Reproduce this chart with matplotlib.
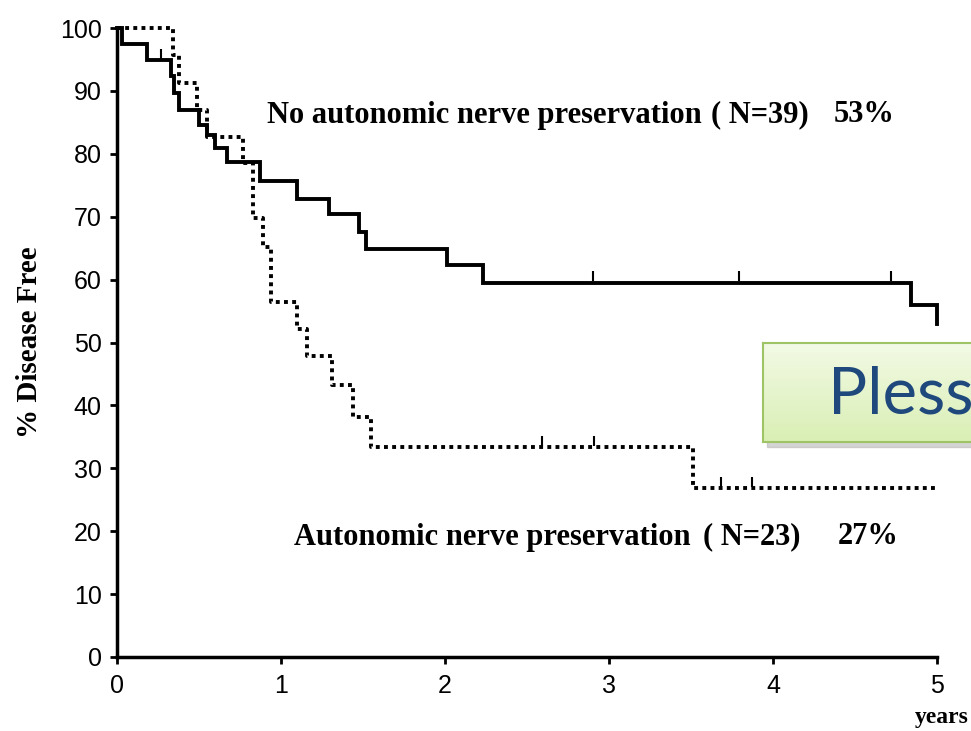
import numpy as np
import matplotlib
matplotlib.use("Agg")
import matplotlib.pyplot as plt

# Kaplan-Meier steps (years, % disease free)
no_pres_t = [0, 0.03, 0.18, 0.33, 0.35, 0.38, 0.50, 0.55, 0.60, 0.67, 0.87, 1.10,
             1.29, 1.475, 1.52, 2.01, 2.23, 4.84, 5.0]
no_pres_s = [100, 97.4, 94.9, 92.3, 89.7, 87.0, 84.5, 83.0, 81.0, 78.7, 75.6, 72.8,
             70.4, 67.6, 64.9, 62.3, 59.5, 56.0, 52.9]
no_pres_cens = [0.27, 2.90, 3.79, 4.72]

pres_t = [0, 0.34, 0.38, 0.49, 0.55, 0.77, 0.83, 0.89, 0.94, 1.10, 1.16, 1.31,
          1.44, 1.55, 3.51, 5.0]
pres_s = [100, 95.7, 91.3, 87.0, 82.6, 78.5, 69.8, 65.2, 56.5, 52.2, 47.8, 43.3,
          38.2, 33.4, 26.9, 26.9]
pres_cens = [2.59, 2.91, 3.68, 3.87]

x_ticks = [0, 1, 2, 3, 4, 5]
y_ticks = [0, 10, 20, 30, 40, 50, 60, 70, 80, 90, 100]

# annotation pieces: (text, left edge px) for each group
label_no = [("No autonomic nerve preservation", 267), ("( N=39)", 711), ("53%", 834)]
label_yes = [("Autonomic nerve preservation", 294), ("( N=23)", 703), ("27%", 838)]


def step_value(ts, ss, t):
    idx = np.searchsorted(ts, t, side="right") - 1
    return np.asarray(ss)[idx]


fig = plt.figure(figsize=(9.71, 7.31), dpi=100)
ax = fig.add_axes([117 / 971, 1 - 657 / 731, 820 / 971, 629 / 731])

ax.step(no_pres_t, no_pres_s, where="post", color="black", lw=2.8,
        solid_joinstyle="miter", clip_on=False, zorder=3)
ax.step(pres_t, pres_s, where="post", color="black", lw=2.8,
        linestyle=(0, (1, 1.1)), clip_on=False, zorder=3)

# censor marks
ax.plot(no_pres_cens, step_value(no_pres_t, no_pres_s, no_pres_cens) + 1,
        ls="none", marker="|", ms=7, mew=1.5, color="black", clip_on=False)
ax.plot(pres_cens, step_value(pres_t, pres_s, pres_cens) + 1,
        ls="none", marker="|", ms=7, mew=1.5, color="black", clip_on=False)

ax.set_xlim(0, 5)
ax.set_ylim(0, 100)
for s in ["top", "right"]:
    ax.spines[s].set_visible(False)
for s in ["left", "bottom"]:
    ax.spines[s].set_linewidth(2.5)

tick_font = ["Liberation Sans", "DejaVu Sans"]
ax.set_xticks(x_ticks)
ax.set_yticks(y_ticks)
ax.set_xticklabels([str(v) for v in x_ticks], family=tick_font, fontsize=18)
ax.set_yticklabels([str(v) for v in y_ticks], family=tick_font, fontsize=18)
ax.tick_params(axis="both", direction="out", length=5, width=2, colors="black")
ax.tick_params(axis="x", pad=7)
ax.tick_params(axis="y", pad=6)

serif = ["Liberation Serif", "DejaVu Serif"]
ax.set_ylabel("% Disease Free", family=serif, fontweight="bold", fontsize=21,
              labelpad=12)
fig.text(969 / 971, 1 - 717 / 731, "years", family=serif, fontweight="bold",
         fontsize=17, ha="right", va="center")

for txt, px in label_no:
    fig.text(px / 971, 1 - 115 / 731, txt, family=serif, fontweight="bold",
             fontsize=22, va="center", ha="left")
for txt, px in label_yes:
    fig.text(px / 971, 1 - 537 / 731, txt, family=serif, fontweight="bold",
             fontsize=22, va="center", ha="left")

# green callout box that runs off the right edge
bx0, by0, bw, bh = 763 / 971, 1 - 442 / 731, 230 / 971, 99 / 731
shadow = plt.Rectangle((bx0 + 4 / 971, by0 - 5 / 731), bw, bh,
                       transform=fig.transFigure, color="#b8b8b8", alpha=0.6,
                       zorder=5)
fig.add_artist(shadow)
bax = fig.add_axes([bx0, by0, bw, bh], zorder=6)
grad = np.linspace(0, 1, 100).reshape(-1, 1)
cmap = matplotlib.colors.LinearSegmentedColormap.from_list(
    "box", ["#f3fae6", "#d9efb4"])
bax.imshow(grad, aspect="auto", cmap=cmap, extent=[0, 1, 0, 1], origin="upper")
bax.set_xticks([])
bax.set_yticks([])
for s in bax.spines.values():
    s.set_color("#9fc466")
    s.set_linewidth(1.5)
bax.text(65 / 230, 0.47, "Pless", family=["Lato", "DejaVu Sans"], fontsize=47,
         color="#1f497d", ha="left", va="center")

fig.savefig("out.png", dpi=100)
